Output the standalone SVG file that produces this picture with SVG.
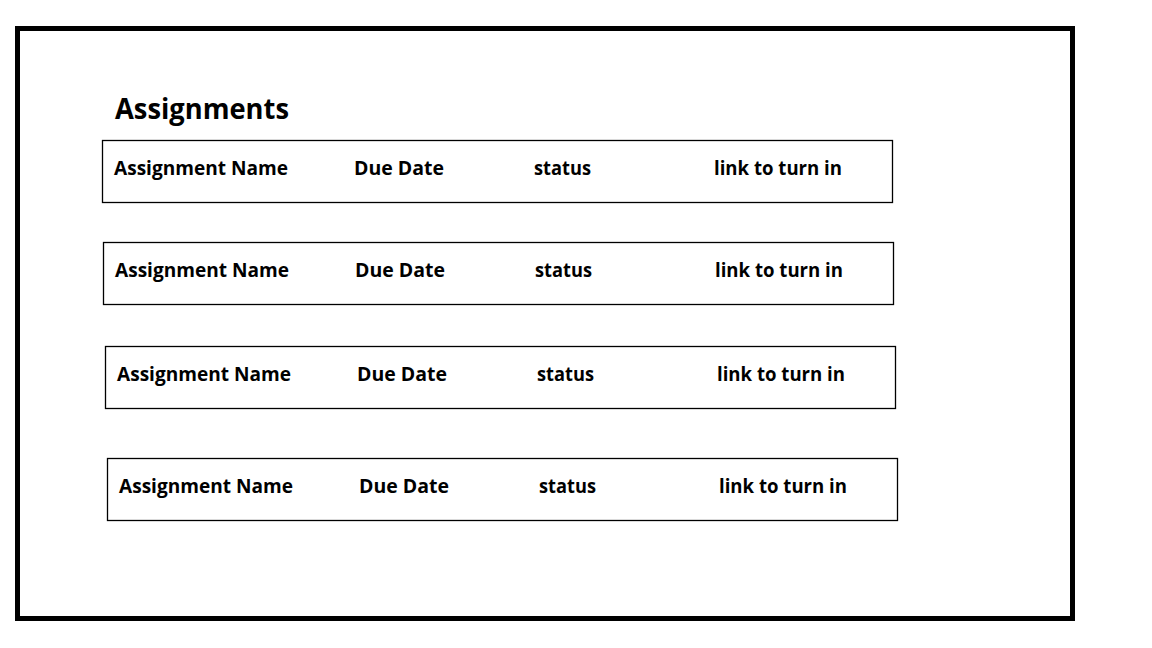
<svg xmlns="http://www.w3.org/2000/svg" width="1152" height="648" viewBox="0 0 1152 648">
<style>
.frame{fill:none;stroke:#000;stroke-width:5}
.row{fill:#fff;stroke:#000;stroke-width:1.3}
.t{font-family:"Open Sans","Noto Sans",sans-serif;font-weight:700;font-size:20px;fill:#000}
.title{font-family:"Open Sans","Noto Sans",sans-serif;font-weight:700;font-size:29px;fill:#000}
</style>
<rect width="1152" height="648" fill="#fff"/>
<rect class="frame" x="17.5" y="28.5" width="1055" height="590"/>
<text class="title" x="115" y="119" textLength="174" lengthAdjust="spacingAndGlyphs">Assignments</text>
<g id="row1">
<rect class="row" x="102.5" y="140.5" width="790" height="62"/>
<text class="t" x="114" y="175" textLength="174" lengthAdjust="spacingAndGlyphs">Assignment Name</text>
<text class="t" x="354" y="175" textLength="90" lengthAdjust="spacingAndGlyphs">Due Date</text>
<text class="t" x="534" y="175" textLength="57" lengthAdjust="spacingAndGlyphs">status</text>
<text class="t" x="714" y="175" textLength="128" lengthAdjust="spacingAndGlyphs">link to turn in</text>
</g>
<g id="row2">
<rect class="row" x="103.5" y="242.5" width="790" height="62"/>
<text class="t" x="115" y="277" textLength="174" lengthAdjust="spacingAndGlyphs">Assignment Name</text>
<text class="t" x="355" y="277" textLength="90" lengthAdjust="spacingAndGlyphs">Due Date</text>
<text class="t" x="535" y="277" textLength="57" lengthAdjust="spacingAndGlyphs">status</text>
<text class="t" x="715" y="277" textLength="128" lengthAdjust="spacingAndGlyphs">link to turn in</text>
</g>
<g id="row3">
<rect class="row" x="105.5" y="346.5" width="790" height="62"/>
<text class="t" x="117" y="381" textLength="174" lengthAdjust="spacingAndGlyphs">Assignment Name</text>
<text class="t" x="357" y="381" textLength="90" lengthAdjust="spacingAndGlyphs">Due Date</text>
<text class="t" x="537" y="381" textLength="57" lengthAdjust="spacingAndGlyphs">status</text>
<text class="t" x="717" y="381" textLength="128" lengthAdjust="spacingAndGlyphs">link to turn in</text>
</g>
<g id="row4">
<rect class="row" x="107.5" y="458.5" width="790" height="62"/>
<text class="t" x="119" y="493" textLength="174" lengthAdjust="spacingAndGlyphs">Assignment Name</text>
<text class="t" x="359" y="493" textLength="90" lengthAdjust="spacingAndGlyphs">Due Date</text>
<text class="t" x="539" y="493" textLength="57" lengthAdjust="spacingAndGlyphs">status</text>
<text class="t" x="719" y="493" textLength="128" lengthAdjust="spacingAndGlyphs">link to turn in</text>
</g>
<g id="connectors"/>
</svg>
